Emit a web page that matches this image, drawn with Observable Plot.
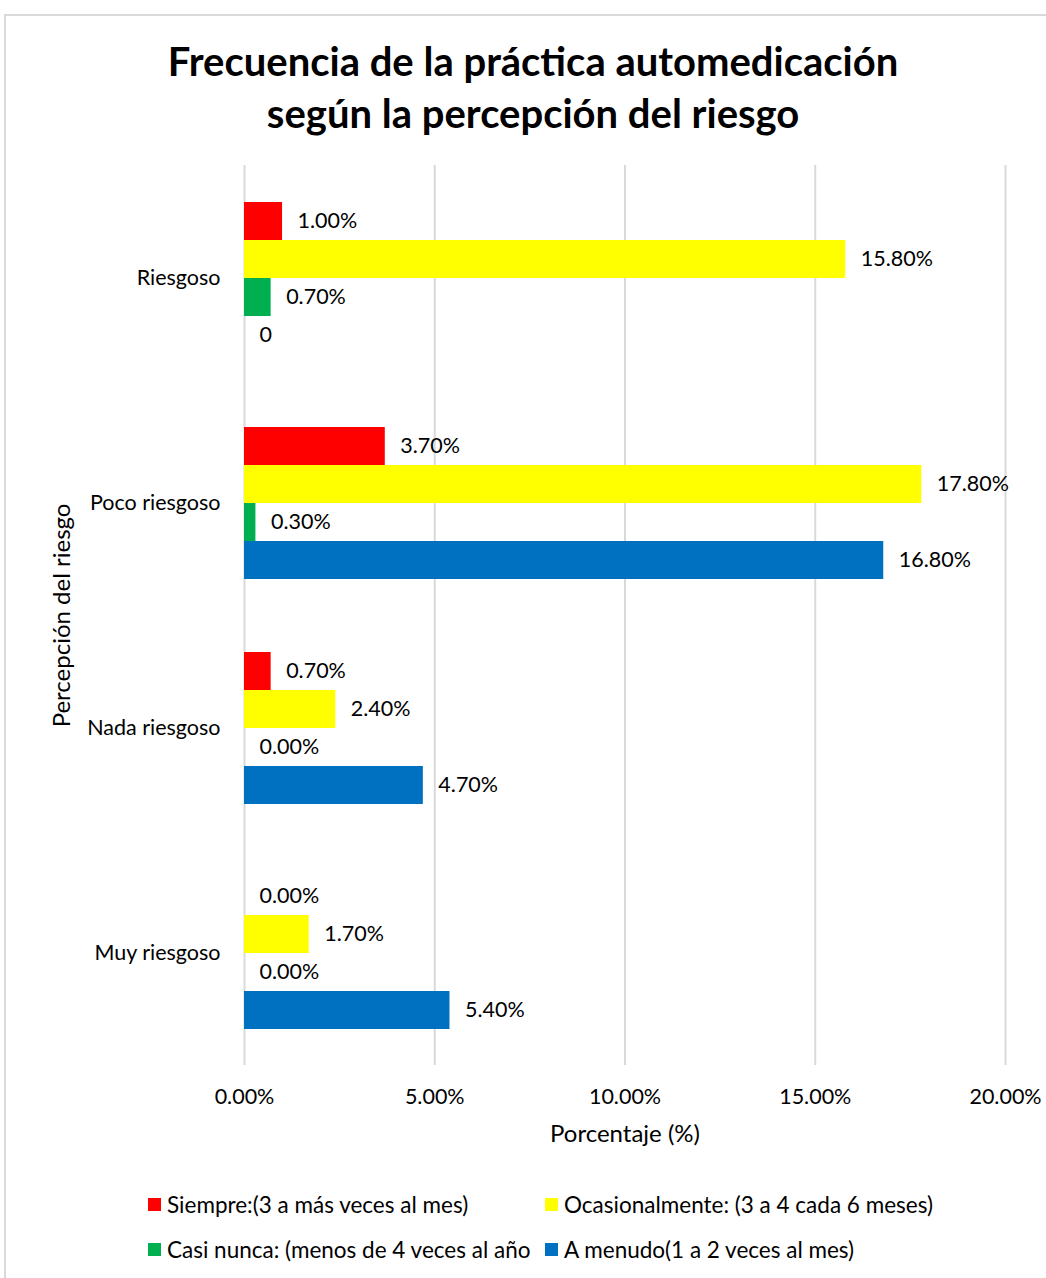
<!DOCTYPE html>
<html>
<head>
<meta charset="utf-8">
<script src="https://cdn.jsdelivr.net/npm/d3@7"></script>
<script src="https://cdn.jsdelivr.net/npm/@observablehq/plot@0.6"></script>
<style>
  html, body { margin: 0; padding: 0; background: #fff; overflow: hidden; width: 1046px; height: 1278px; }
  body { font-family: Lato, "Open Sans", sans-serif; color: #000; position: relative; }
  #frame { position: absolute; left: 4px; top: 14px; width: 1100px; height: 1300px; border: 2px solid #d9d9d9; box-sizing: border-box; pointer-events: none; }
  #title { height: 150px; box-sizing: border-box; padding-top: 35px; text-align: center; font-weight: bold; font-size: 40px; line-height: 52px; width: 1066px; }
  #chart svg { display: block; }
  #chart g[aria-label$="axis label"] text { font-size: 24px; }
  #legend { position: relative; height: 118px; font-size: 22.5px; }
  .item { position: absolute; display: flex; align-items: center; white-space: nowrap; }
  .sw { width: 13px; height: 13px; margin-right: 6px; }
</style>
</head>
<body>
<div id="frame"></div>
<div id="title">Frecuencia de la práctica automedicación<br>según la percepción del riesgo</div>
<div id="chart"></div>
<div id="legend"></div>
<script>
const categories = ["Riesgoso", "Poco riesgoso", "Nada riesgoso", "Muy riesgoso"];
const series = [
  "Siempre:(3 a más veces al mes)",
  "Ocasionalmente: (3 a 4 cada 6 meses)",
  "Casi nunca: (menos de 4 veces al año",
  "A menudo(1 a 2 veces al mes)"
];
const colors = ["#FF0000", "#FFFF00", "#00B050", "#0070C0"];
const siempre = [1.0, 3.7, 0.7, 0.0];
const ocasionalmente = [15.8, 17.8, 2.4, 1.7];
const casiNunca = [0.7, 0.3, 0.0, 0.0];
const aMenudo = [0, 16.8, 4.7, 5.4];
const siempreLabels = ["1.00%", "3.70%", "0.70%", "0.00%"];
const ocasionalmenteLabels = ["15.80%", "17.80%", "2.40%", "1.70%"];
const casiNuncaLabels = ["0.70%", "0.30%", "0.00%", "0.00%"];
const aMenudoLabels = ["0", "16.80%", "4.70%", "5.40%"];
const xTicks = [0, 5, 10, 15, 20];

const allValues = [siempre, ocasionalmente, casiNunca, aMenudo];
const allLabels = [siempreLabels, ocasionalmenteLabels, casiNuncaLabels, aMenudoLabels];
const data = [];
series.forEach((s, i) => categories.forEach((c, j) => {
  data.push({category: c, series: s, value: allValues[i][j], label: allLabels[i][j]});
}));

const chart = Plot.plot({
  width: 1046,
  height: 1010,
  marginTop: 15,
  marginBottom: 95,
  marginLeft: 244,
  marginRight: 41,
  style: {fontFamily: "Lato, 'Open Sans', sans-serif", fontSize: "21px", color: "#000", background: "transparent"},
  x: {domain: [0, 20]},
  fy: {domain: categories, padding: 0},
  y: {domain: series, paddingInner: 0, paddingOuter: 0.922, axis: null},
  color: {domain: series, range: colors},
  marks: [
    Plot.gridX(xTicks, {stroke: "#d9d9d9", strokeWidth: 2, strokeOpacity: 1}),
    Plot.barX(data, {x: "value", y: "series", fy: "category", fill: "series"}),
    Plot.text(data, {x: "value", y: "series", fy: "category", text: "label", textAnchor: "start", dx: 15, fontSize: 21.5, fill: "#000"}),
    Plot.axisX(xTicks, {tickSize: 0, tickPadding: 23, tickFormat: d => d.toFixed(2) + "%", fontSize: 21.5, label: "Porcentaje (%)", labelAnchor: "center", labelOffset: 76, labelArrow: "none"}),
    Plot.axisFy({anchor: "left", tickSize: 0, tickPadding: 24, fontSize: 21.5, label: "Percepción del riesgo", labelAnchor: "center", labelOffset: 192, labelArrow: "none"})
  ]
});
document.getElementById("chart").appendChild(chart);

const legend = document.getElementById("legend");
const pos = [[148, 45], [545, 45], [148, 90], [545, 90]];
series.forEach((s, i) => {
  const it = document.createElement("div");
  it.className = "item";
  it.style.left = pos[i][0] + "px";
  it.style.top = (pos[i][1] - 14) + "px";
  it.innerHTML = `<span class="sw" style="background:${colors[i]}"></span><span>${s}</span>`;
  legend.appendChild(it);
});
</script>
</body>
</html>
